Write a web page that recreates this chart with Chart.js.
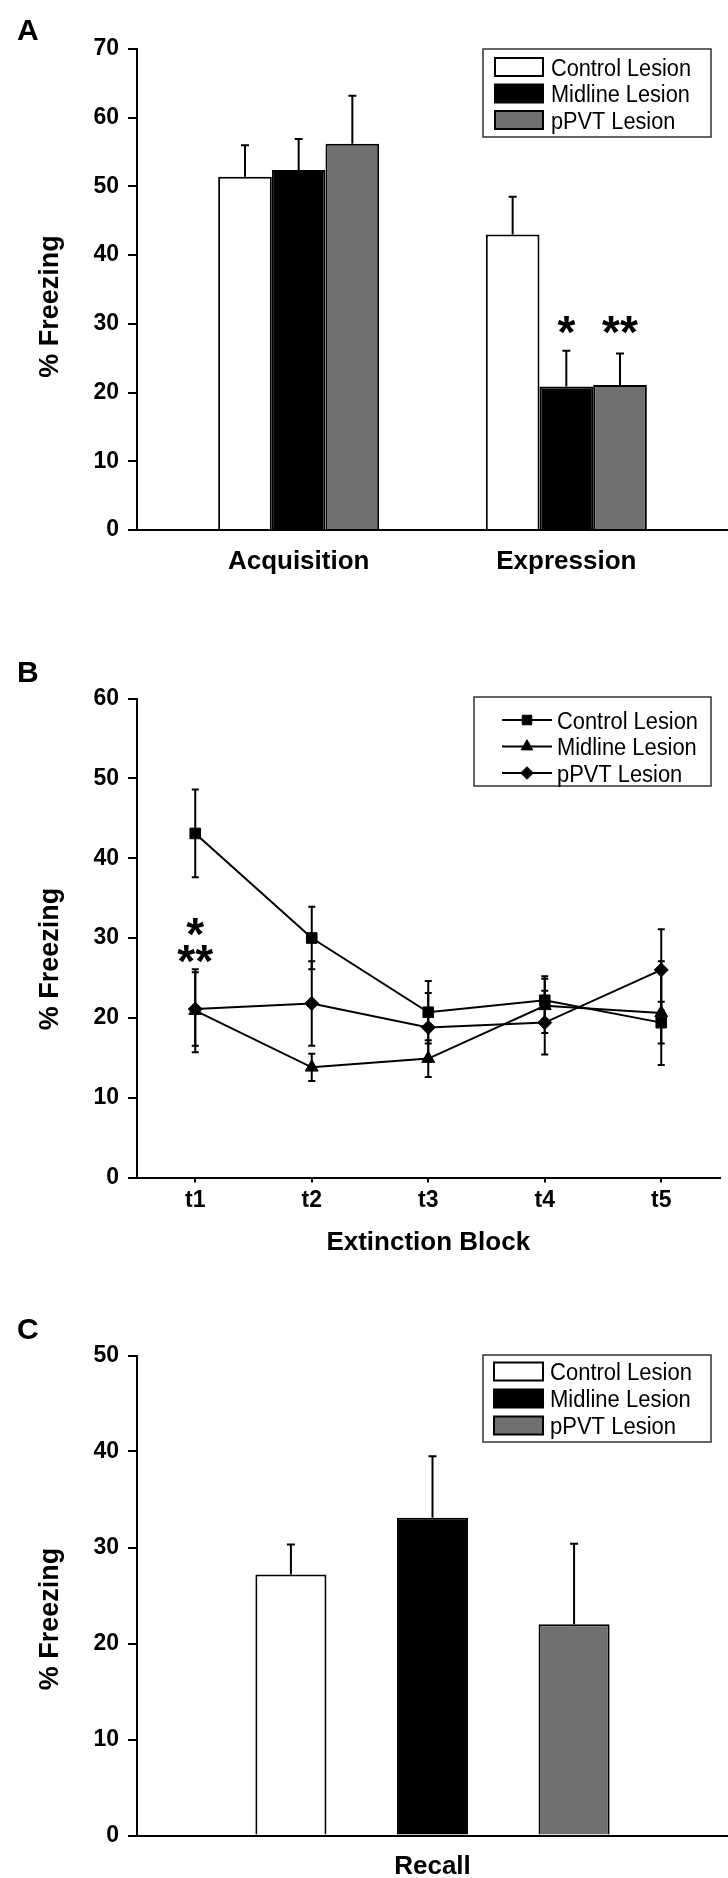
<!DOCTYPE html>
<html>
<head>
<meta charset="utf-8">
<script src="https://cdn.jsdelivr.net/npm/chart.js@4.4.1/dist/chart.umd.min.js"></script>
<style>
  html, body { margin: 0; padding: 0; background: #fff; }
  body { width: 728px; height: 1878px; position: relative; overflow: hidden; }
  .panel { position: absolute; left: 0; width: 728px; }
  canvas { display: block; }
</style>
</head>
<body>
<div class="panel" style="top:0;height:620px"><canvas id="chartA" width="728" height="620"></canvas></div>
<div class="panel" style="top:620px;height:640px"><canvas id="chartB" width="728" height="640"></canvas></div>
<div class="panel" style="top:1260px;height:618px"><canvas id="chartC" width="728" height="618"></canvas></div>
<script>
// ---- data ----
const groups = ['Control Lesion', 'Midline Lesion', 'pPVT Lesion'];
const yTitle = '% Freezing';

// A: acquisition / expression
const phasesA = ['Acquisition', 'Expression'];
const controlA = [51.4, 43.0];
const midlineA = [52.4, 20.9];
const pvtA = [56.2, 21.1];
const controlAErr = [4.6, 5.5];
const midlineAErr = [4.5, 5.2];
const pvtAErr = [7.0, 4.6];
const ticksA = [0, 10, 20, 30, 40, 50, 60, 70];
const starsA = [{ text: '*', series: 1, cat: 1, y: 29.8 }, { text: '**', series: 2, cat: 1, y: 29.8 }];

// B: extinction blocks
const blocksB = ['t1', 't2', 't3', 't4', 't5'];
const xTitleB = 'Extinction Block';
const controlB = [43.1, 30.0, 20.7, 22.2, 19.4];
const midlineB = [20.9, 13.8, 14.9, 21.5, 20.6];
const pvtB = [21.1, 21.8, 18.8, 19.4, 26.0];
const controlBErr = [5.5, 3.9, 3.9, 3.0, 2.6];
const midlineBErr = [5.2, 1.7, 2.3, 3.4, 6.5];
const pvtBErr = [4.6, 5.3, 4.3, 4.0, 5.1];
const ticksB = [0, 10, 20, 30, 40, 50, 60];
const starsB = [{ text: '*', cat: 0, y: 31.4 }, { text: '**', cat: 0, y: 28.0 }];

// C: recall
const phasesC = ['Recall'];
const controlC = [27.2];
const midlineC = [33.1];
const pvtC = [22.0];
const controlCErr = [3.1];
const midlineCErr = [6.4];
const pvtCErr = [8.4];
const ticksC = [0, 10, 20, 30, 40, 50];

// ---- styling ----
const FONT = '"Liberation Sans", Arial, Helvetica, sans-serif';
const NARROW = '"Liberation Sans Narrow", "Liberation Sans", Arial, sans-serif';
const fills = ['#ffffff', '#000000', '#707070'];
const markers = ['rect', 'triangle', 'rectRot'];
const markerSize = [7.5, 7.5, 7];

Chart.defaults.font.family = FONT;
Chart.defaults.color = '#000';

function centerText(ctx, text, x, y, font) {
  ctx.font = font;
  ctx.textAlign = 'center';
  ctx.textBaseline = 'alphabetic';
  const m = ctx.measureText(text);
  ctx.fillText(text, x, y + (m.actualBoundingBoxAscent - m.actualBoundingBoxDescent) / 2);
}

function drawErrors(chart, cfg) {
  const ctx = chart.ctx;
  const ys = chart.scales.y;
  ctx.save();
  ctx.strokeStyle = '#000';
  ctx.lineWidth = 2;
  cfg.errors.forEach((err, d) => {
    const meta = chart.getDatasetMeta(d);
    meta.data.forEach((el, i) => {
      const raw = chart.data.datasets[d].data[i];
      const v = typeof raw === 'object' ? raw.y : raw;
      const top = ys.getPixelForValue(v + err[i]);
      const bot = cfg.errBoth ? ys.getPixelForValue(v - err[i]) : ys.getPixelForValue(v);
      ctx.beginPath();
      ctx.moveTo(el.x, top);
      ctx.lineTo(el.x, bot);
      ctx.moveTo(el.x - cfg.cap, top);
      ctx.lineTo(el.x + cfg.cap, top);
      if (cfg.errBoth) {
        ctx.moveTo(el.x - cfg.cap, bot);
        ctx.lineTo(el.x + cfg.cap, bot);
      }
      ctx.stroke();
    });
  });
  ctx.restore();
}

function drawStars(chart, cfg) {
  const ctx = chart.ctx;
  ctx.save();
  ctx.fillStyle = '#000';
  (cfg.stars || []).forEach(s => {
    const x = s.series !== undefined
      ? chart.getDatasetMeta(s.series).data[s.cat].x
      : chart.scales.x.getPixelForValue(s.cat);
    centerText(ctx, s.text, x, chart.scales.y.getPixelForValue(s.y), 'bold 46px ' + FONT);
  });
  ctx.restore();
}

function drawLegend(chart, lg) {
  const ctx = chart.ctx;
  ctx.save();
  ctx.lineWidth = 1.5;
  ctx.strokeStyle = '#333';
  ctx.strokeRect(lg.x, lg.y, lg.w, lg.h);
  ctx.font = '23px ' + NARROW;
  ctx.textAlign = 'left';
  ctx.textBaseline = 'alphabetic';
  const sx = lg.textW / ctx.measureText(chart.data.datasets[0].label).width;
  const cap = ctx.measureText('C').actualBoundingBoxAscent;
  chart.data.datasets.forEach((ds, i) => {
    const cy = lg.rowY + i * lg.rowGap;
    ctx.strokeStyle = '#000';
    ctx.fillStyle = '#000';
    ctx.lineWidth = 2;
    if (lg.kind === 'bar') {
      ctx.fillStyle = ds.backgroundColor;
      ctx.fillRect(lg.swX, cy - lg.swH / 2, lg.swW, lg.swH);
      ctx.strokeRect(lg.swX, cy - lg.swH / 2, lg.swW, lg.swH);
    } else {
      ctx.beginPath();
      ctx.moveTo(lg.lineX0, cy);
      ctx.lineTo(lg.lineX1, cy);
      ctx.stroke();
      ctx.lineWidth = 1;
      Chart.helpers.drawPoint(ctx, { pointStyle: ds.pointStyle, radius: ds.pointRadius * 0.9, borderWidth: 1, rotation: 0 },
        (lg.lineX0 + lg.lineX1) / 2, cy);
    }
    ctx.save();
    ctx.fillStyle = '#000';
    ctx.translate(lg.textX, cy + cap / 2);
    ctx.scale(sx, 1);
    ctx.fillText(ds.label, 0, 0);
    ctx.restore();
  });
  ctx.restore();
}

function makeDecor(cfg) {
  return {
    id: 'decor',
    beforeDatasetsDraw(chart) {
      if (cfg.errBoth) drawErrors(chart, cfg);
    },
    afterDatasetsDraw(chart) {
      if (!cfg.errBoth) drawErrors(chart, cfg);
      drawStars(chart, cfg);
    },
    afterDraw(chart) {
      const ctx = chart.ctx;
      const area = chart.chartArea;
      ctx.save();
      ctx.fillStyle = '#000';
      ctx.font = 'bold 30px ' + FONT;
      ctx.textAlign = 'left';
      ctx.textBaseline = 'alphabetic';
      ctx.fillText(cfg.letter, 17, cfg.letterY);
      ctx.translate(50.5, (area.top + area.bottom) / 2 + cfg.yTitleShift);
      ctx.rotate(-Math.PI / 2);
      centerText(ctx, yTitle, 0, 0, 'bold 27px ' + FONT);
      ctx.restore();
      drawLegend(chart, cfg.legend);
    }
  };
}

function yAxis(ticks) {
  return {
    min: ticks[0],
    max: ticks[ticks.length - 1],
    afterBuildTicks: s => { s.ticks = ticks.map(v => ({ value: v })); },
    afterFit: s => { s.width = 137; },
    ticks: { font: { size: 23, weight: 'bold' }, color: '#000', padding: 9 },
    grid: { drawOnChartArea: false, color: '#000', lineWidth: 2, tickLength: 9 },
    border: { color: '#000', width: 2 }
  };
}

function barSets(series, catPct, barPct) {
  return series.map((vals, k) => ({
    label: groups[k],
    data: vals,
    backgroundColor: fills[k],
    borderColor: '#000',
    borderWidth: 2,
    borderSkipped: 'start',
    categoryPercentage: catPct,
    barPercentage: barPct
  }));
}

// ---- A ----
const setsA = barSets([controlA, midlineA, pvtA].map(arr => arr.map((v, i) => ({ x: i, y: v }))), 0.6016, 1);
new Chart(document.getElementById('chartA'), {
  type: 'bar',
  data: { datasets: setsA },
  options: {
    responsive: false,
    animation: false,
    layout: { padding: { top: 49, right: 0, bottom: 0, left: 0 } },
    plugins: { legend: { display: false }, tooltip: { enabled: false } },
    scales: {
      x: {
        type: 'linear',
        offset: false,
        min: -0.604,
        max: 1.604,
        afterBuildTicks: s => { s.ticks = phasesA.map((p, i) => ({ value: i })); },
        afterFit: s => { s.height = 90; },
        ticks: { callback: (v, i) => phasesA[i], font: { size: 26, weight: 'bold' }, color: '#000', padding: 16, autoSkip: false, maxRotation: 0 },
        grid: { display: false, drawTicks: false },
        border: { color: '#000', width: 2 }
      },
      y: yAxis(ticksA)
    }
  },
  plugins: [makeDecor({
    letter: 'A', letterY: 40, yTitleShift: 17,
    errors: [controlAErr, midlineAErr, pvtAErr], errBoth: false, cap: 4,
    stars: starsA,
    legend: { kind: 'bar', x: 483, y: 49, w: 228, h: 88, rowY: 67, rowGap: 26.5, swX: 495, swW: 48, swH: 18, textX: 551, textW: 140 }
  })]
});

// ---- B ----
new Chart(document.getElementById('chartB'), {
  type: 'line',
  data: {
    labels: blocksB,
    datasets: [controlB, midlineB, pvtB].map((vals, k) => ({
      label: groups[k],
      data: vals,
      borderColor: '#000',
      backgroundColor: '#000',
      borderWidth: 2,
      tension: 0,
      pointStyle: markers[k],
      pointRadius: markerSize[k],
      pointBackgroundColor: '#000',
      pointBorderColor: '#000',
      pointBorderWidth: 1,
      clip: false
    }))
  },
  options: {
    responsive: false,
    animation: false,
    layout: { padding: { top: 78.5, right: 1, bottom: 0, left: 0 } },
    plugins: { legend: { display: false }, tooltip: { enabled: false } },
    scales: {
      x: {
        offset: true,
        afterFit: s => { s.height = 82.5; },
        ticks: { font: { size: 23, weight: 'bold' }, color: '#000', padding: 4 },
        grid: { drawOnChartArea: false, color: '#000', lineWidth: 2, tickLength: 5 },
        border: { color: '#000', width: 2 },
        title: { display: true, text: xTitleB, color: '#000', font: { size: 26, weight: 'bold' }, padding: { top: 0, bottom: 1.5 } }
      },
      y: yAxis(ticksB)
    }
  },
  plugins: [makeDecor({
    letter: 'B', letterY: 61.5, yTitleShift: 21,
    errors: [controlBErr, midlineBErr, pvtBErr], errBoth: true, cap: 3.5,
    stars: starsB,
    legend: { kind: 'line', x: 474, y: 77, w: 237, h: 89, rowY: 100, rowGap: 26.5, lineX0: 502, lineX1: 552, textX: 557, textW: 141 }
  })]
});

// ---- C ----
new Chart(document.getElementById('chartC'), {
  type: 'bar',
  data: { labels: phasesC, datasets: barSets([controlC, midlineC, pvtC], 0.7187, 0.502) },
  options: {
    responsive: false,
    animation: false,
    layout: { padding: { top: 95.5, right: 0, bottom: 0, left: 0 } },
    plugins: { legend: { display: false }, tooltip: { enabled: false } },
    scales: {
      x: {
        afterFit: s => { s.height = 42.5; },
        ticks: { font: { size: 26, weight: 'bold' }, color: '#000', padding: 16 },
        grid: { display: false, drawTicks: false },
        border: { color: '#000', width: 2 }
      },
      y: yAxis(ticksC)
    }
  },
  plugins: [makeDecor({
    letter: 'C', letterY: 79, yTitleShift: 23.5,
    errors: [controlCErr, midlineCErr, pvtCErr], errBoth: false, cap: 4,
    stars: [],
    legend: { kind: 'bar', x: 483, y: 95, w: 228, h: 87, rowY: 111.5, rowGap: 27, swX: 494, swW: 49, swH: 18, textX: 550, textW: 142 }
  })]
});
</script>
</body>
</html>
